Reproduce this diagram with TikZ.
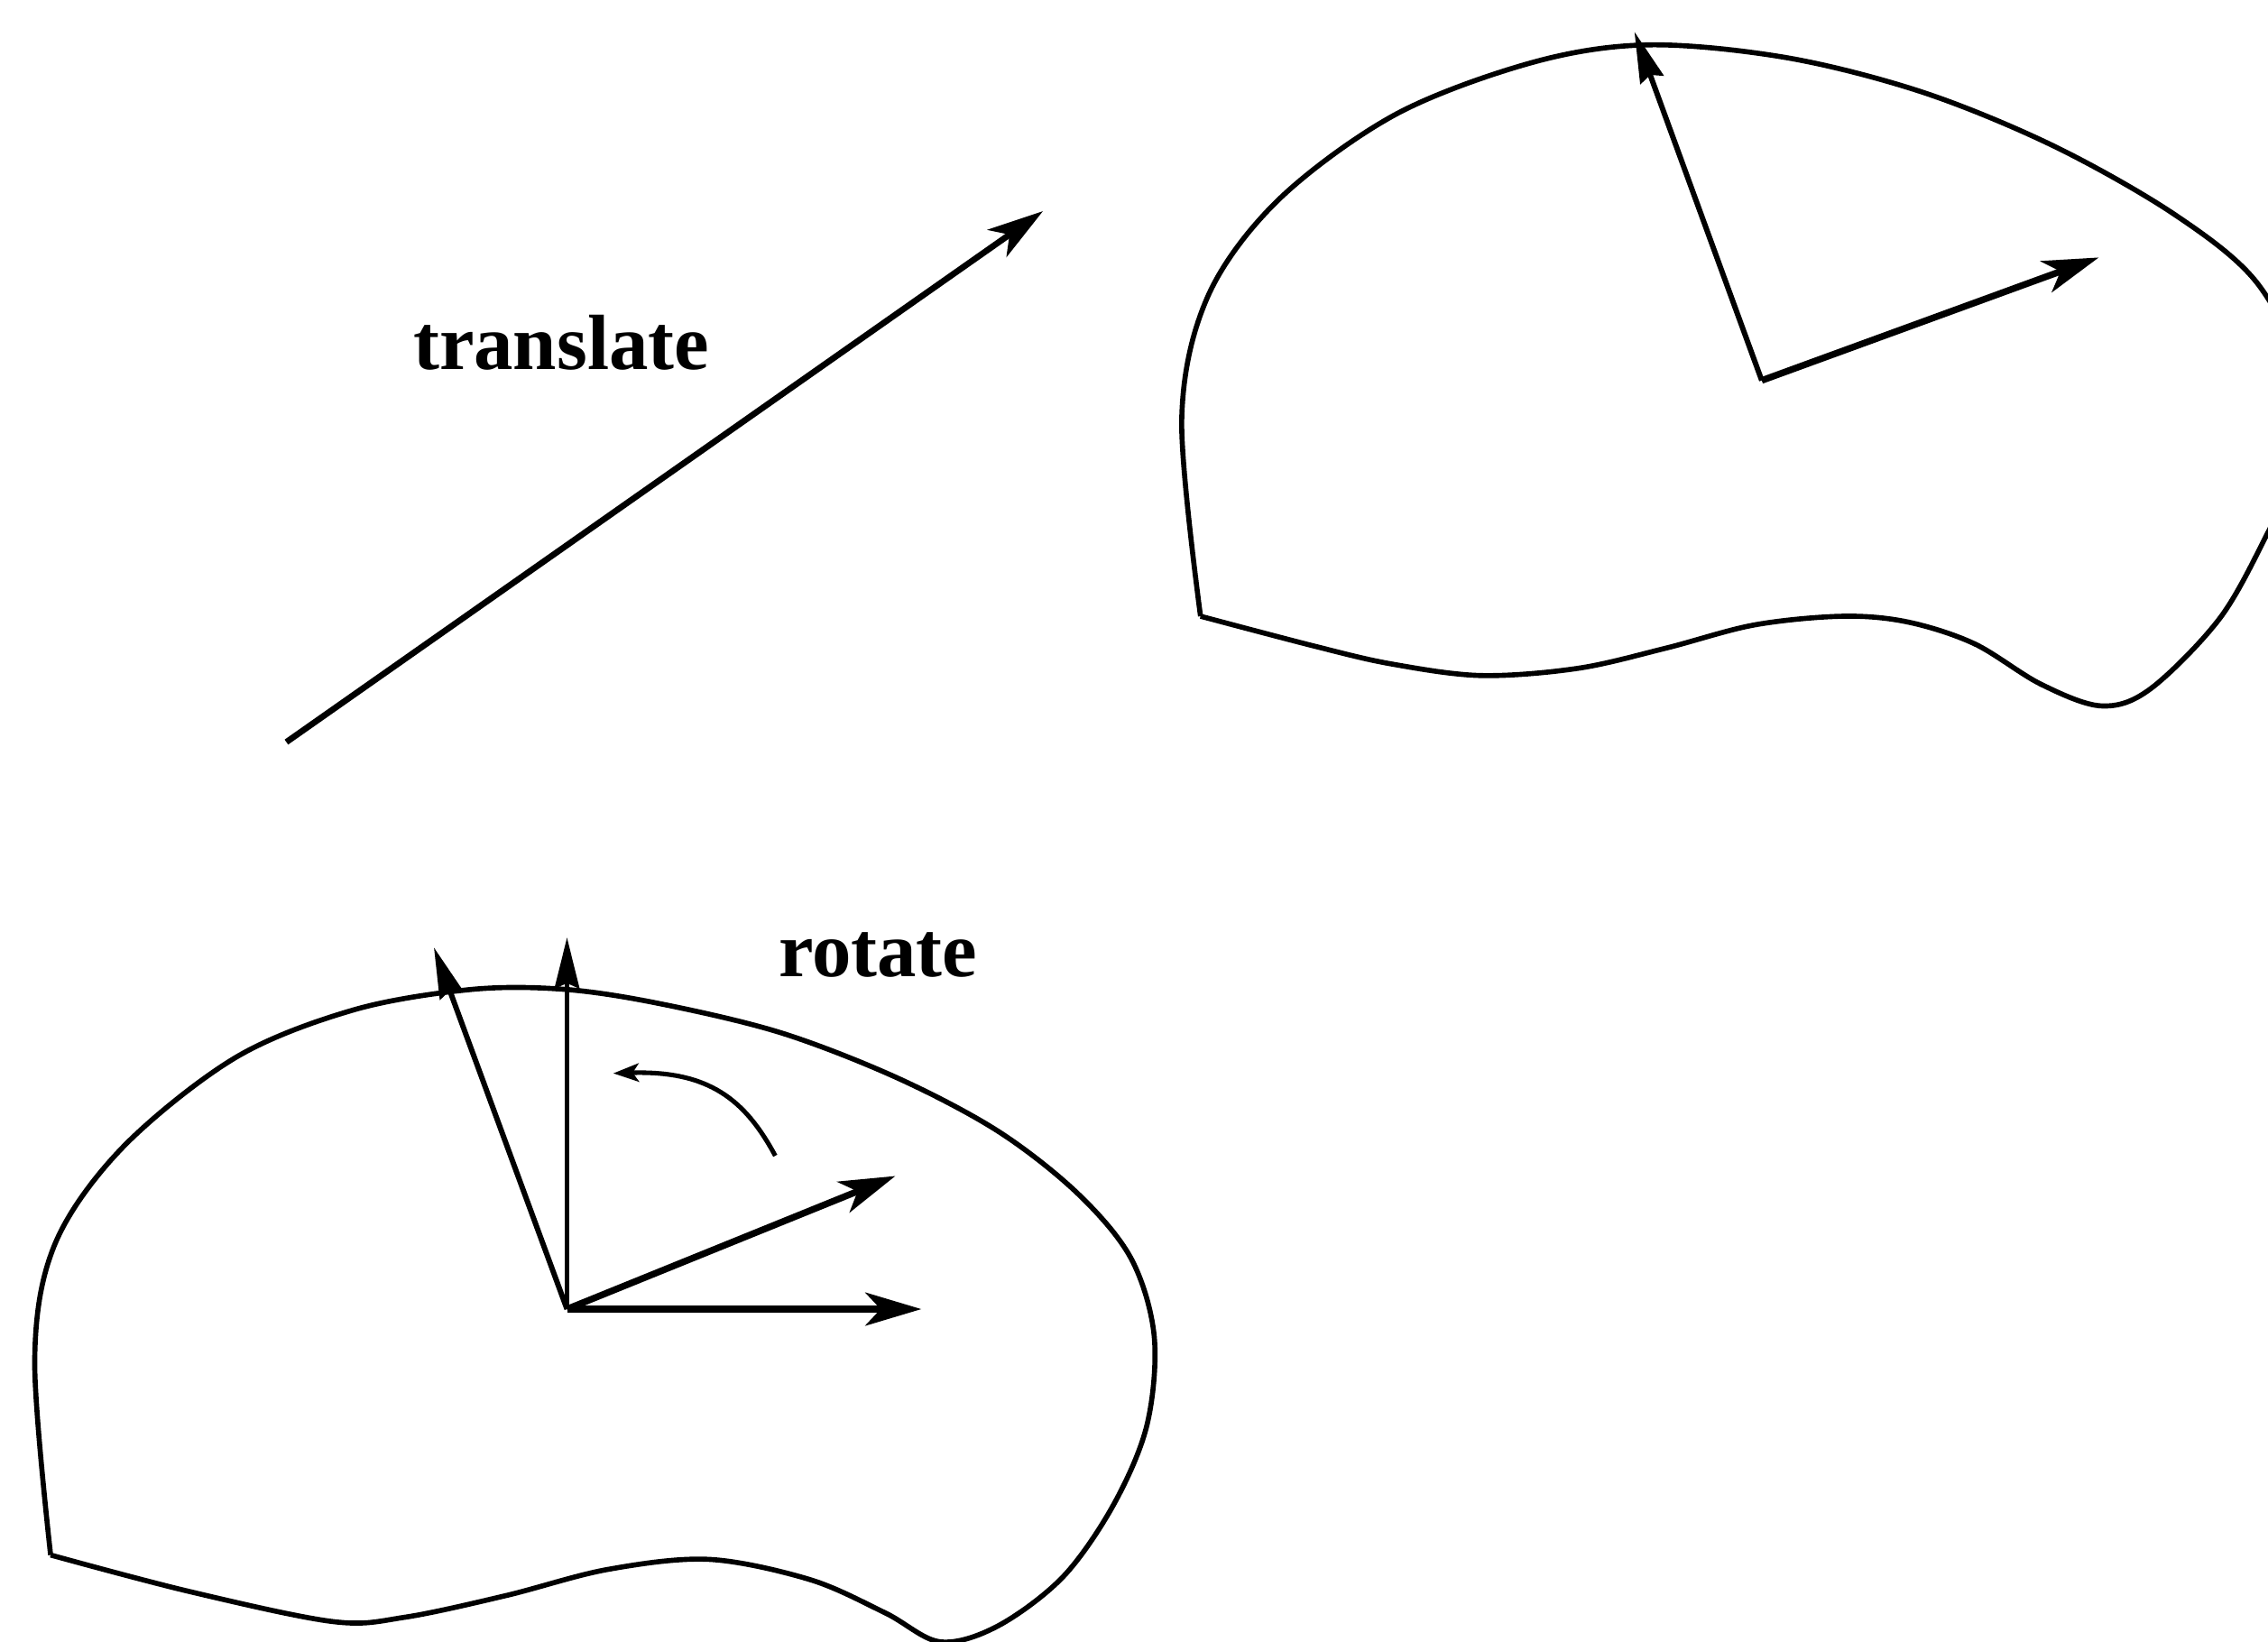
\documentclass[tikz,border=0pt]{standalone}
\usepackage{fontspec}
\setmainfont{Liberation Serif}
\usetikzlibrary{arrows.meta}
\begin{document}
\begin{tikzpicture}[x=0.01cm,y=-0.01cm,
  blob/.style={line width=1pt, line join=round},
  vec/.style={line width=1.3pt, -{Stealth[length=11pt,width=6.5pt,inset=3pt]}},
  thinvec/.style={line width=1.05pt, -{Stealth[length=10pt,width=4.8pt,inset=1pt]}},
  rotarrow/.style={line width=0.9pt, -{Stealth[length=5pt,width=3.6pt,inset=1.2pt]}},
  lbl/.style={font=\fontsize{15.4}{18}\selectfont\bfseries, inner sep=0pt}]
\useasboundingbox (0,0) rectangle (1568,1135);
% translate arrow
\coordinate (ts) at (198,513);
\coordinate (te) at (721,146);
\draw[vec, line width=1.2pt] (ts) -- (te);
\node[lbl] (tl) at (388,237) {translate};
% top-right blob
\draw[blob] plot[smooth, tension=0.55] coordinates {
(830,426) (817,290) (835,205) (884,138) (965,79) (1060,43) (1140,31)
(1236,40) (1330,64) (1420,101) (1503,148) (1560,195) (1592,260)
(1590,320) (1568,368) (1535,427) (1487,476) (1453,488) (1411,473)
(1365,445) (1319,430) (1274,426) (1213,432) (1152,448) (1091,462)
(1024,467) (962,459) (910,447) (830,426)};
\coordinate (o2) at (1218,263);
\coordinate (a2) at (1130,22);
\coordinate (b2) at (1451,178);
\draw[thinvec] (o2) -- (a2);
\draw[vec] (o2) -- (b2);
% bottom-left blob
\draw[blob] plot[smooth, tension=0.55] coordinates {
(35,1075) (24,940) (38,860) (85,793) (163,731) (245,698) (326,684)
(391,684) (457,694) (540,714) (620,745) (690,782) (745,825) (782,870)
(798,924) (793,985) (770,1040) (735,1090) (690,1124) (650,1135)
(612,1115) (560,1092) (490,1078) (420,1085) (350,1103) (280,1118)
(230,1121) (130,1100) (35,1075)};
\coordinate (o1) at (392,905);
\coordinate (a1) at (300,655);
\coordinate (v1) at (392,648);
\coordinate (b1) at (619,813);
\coordinate (h1) at (637,905);
\draw[thinvec] (o1) -- (a1);
\draw[thinvec] (o1) -- (v1);
\draw[vec] (o1) -- (b1);
\draw[vec] (o1) -- (h1);
% rotation arrow
\coordinate (rs) at (536,799);
\coordinate (re) at (424,742);
\draw[rotarrow] (rs) .. controls (515,760) and (490,740) .. (re);
\node[lbl] (rl) at (607,660) {rotate};
\end{tikzpicture}
\end{document}
